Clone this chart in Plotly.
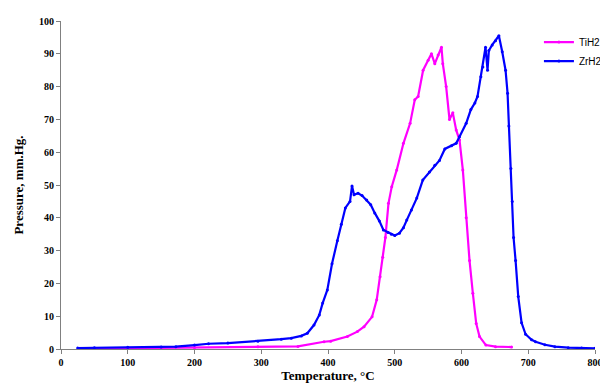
import plotly.graph_objects as go

# ZrH2 (blue)
zr_T = [25, 50, 100, 150, 172, 200, 221, 250, 295, 330, 345, 360, 369, 379, 387, 392, 399, 406, 414,
        420, 426, 433, 436, 439, 445, 451, 458, 464, 470, 477, 483, 490, 495, 500, 507, 513, 518, 525,
        533, 542, 552, 560, 567, 575, 585, 592, 597, 607, 614, 620, 624, 629, 632, 636, 639, 641, 646,
        651, 656, 661, 666, 669, 671, 674, 676, 678, 681, 685, 690, 696, 705, 711, 725, 740, 760, 780, 800]
zr_P = [0.3, 0.4, 0.5, 0.6, 0.7, 1.2, 1.6, 1.8, 2.4, 3.0, 3.3, 4.0, 4.8, 7.3, 10.4, 14, 18, 26, 33,
        38, 43, 45, 49.7, 47, 47.5, 46.8, 45.4, 44, 41.5, 39, 36.3, 35.5, 35, 34.6, 35.3, 37, 39.3, 42.4,
        46, 51.5, 54, 56, 57.5, 61, 62, 62.7, 64.7, 68.8, 73, 75, 77, 83, 86, 92, 85, 91, 92.7,
        94, 95.5, 90.6, 85, 78, 68, 55, 45, 34, 27, 16, 8, 4.5, 2.8, 2.2, 1.3, 0.7, 0.4, 0.3, 0.2]

# TiH2 (magenta)
ti_T = [40, 100, 200, 295, 355, 394, 404, 429, 444, 454, 466, 473, 478, 482, 486, 490.6, 495.5, 503,
        513, 523, 530, 535, 542.5, 550, 555, 560, 565, 570, 572, 577, 582, 587, 592, 597, 602, 607,
        612, 617, 622, 627, 636.5, 651, 675]
ti_P = [0.1, 0.2, 0.4, 0.7, 0.8, 2.2, 2.4, 3.8, 5.3, 6.8, 9.8, 15, 22, 28, 34, 44.4, 49.5, 54.6,
        62.7, 68.8, 76, 77, 85, 88, 90, 87, 89.6, 92, 87, 80, 70, 72, 66.8, 63.7, 54.6, 40,
        27, 17, 7.8, 3.8, 1.2, 0.7, 0.6]

x_ticks = [0, 100, 200, 300, 400, 500, 600, 700, 800]
y_ticks = [0, 10, 20, 30, 40, 50, 60, 70, 80, 90, 100]

fig = go.Figure()
fig.add_trace(go.Scatter(x=ti_T, y=ti_P, name="TiH2", mode="lines+markers",
                         line=dict(color="#ff00ff", width=2.2), marker=dict(size=3, color="#ff00ff")))
fig.add_trace(go.Scatter(x=zr_T, y=zr_P, name="ZrH2", mode="lines+markers",
                         line=dict(color="#0000ff", width=2.2), marker=dict(size=3, color="#0000ff")))

fig.update_layout(
    width=600, height=377,
    margin=dict(l=53, r=1, t=13, b=36),
    paper_bgcolor="white", plot_bgcolor="white",
    showlegend=True,
    legend=dict(x=0.895, y=0.98, xanchor="left", yanchor="top",
                font=dict(family="Liberation Sans", size=10, color="black"),
                bgcolor="rgba(0,0,0,0)", tracegroupgap=0),
    xaxis=dict(range=[0, 800], tickvals=x_ticks, ticks="outside", ticklen=4, tickcolor="#808080",
               showline=True, linecolor="#808080", linewidth=1, showgrid=False, zeroline=False,
               automargin=False,
               tickfont=dict(family="Liberation Serif", size=10, color="black", weight="bold"),
               title=dict(text="Temperature, °C", standoff=3,
                          font=dict(family="Liberation Serif", size=13, color="black", weight="bold"))),
    yaxis=dict(range=[0, 100], tickvals=y_ticks, ticks="outside", ticklen=4, tickcolor="#808080",
               showline=True, linecolor="#808080", linewidth=1, showgrid=False, zeroline=False,
               automargin=False,
               tickfont=dict(family="Liberation Serif", size=10, color="black", weight="bold"),
               title=dict(text="Pressure, mm.Hg.", standoff=12,
                          font=dict(family="Liberation Serif", size=13, color="black", weight="bold"))),
)
fig.write_html("out.html")
